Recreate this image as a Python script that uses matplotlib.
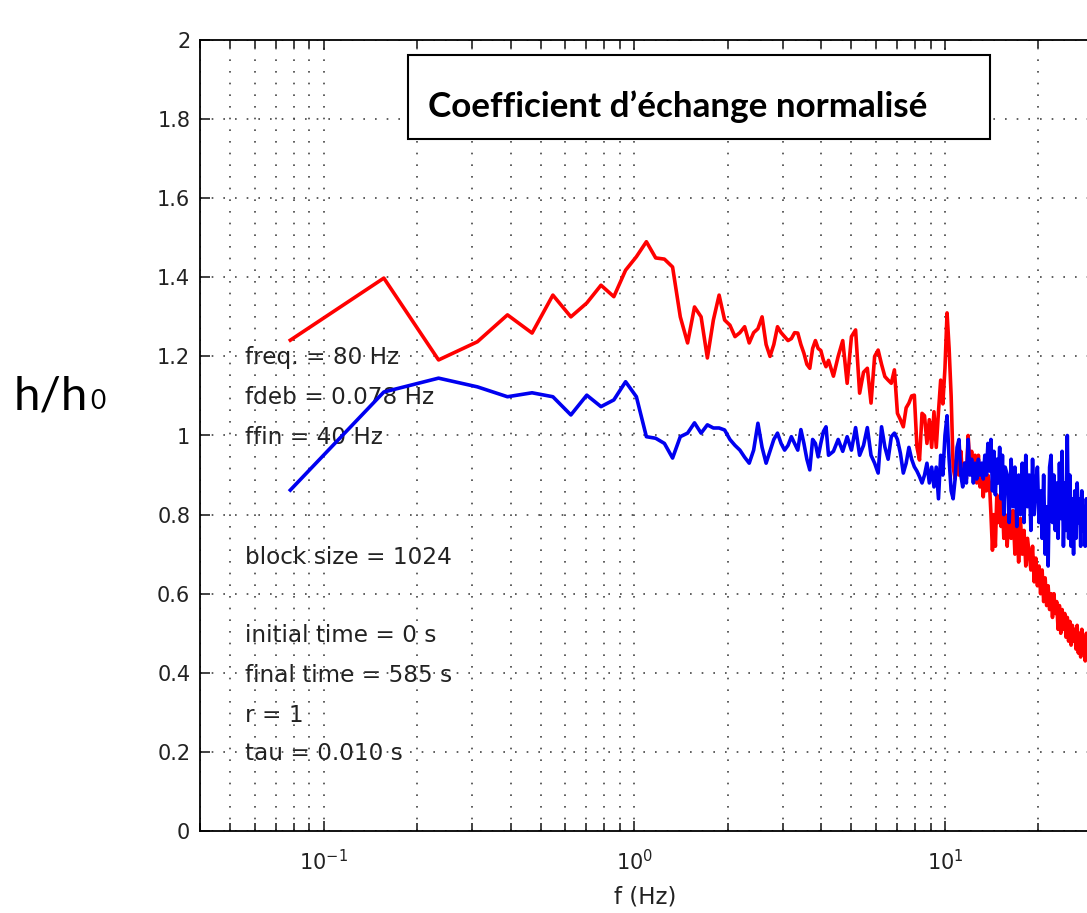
import numpy as np
import matplotlib
matplotlib.use('Agg')
import matplotlib.pyplot as plt
from matplotlib.patches import Rectangle
from matplotlib.ticker import FixedLocator, LogLocator, NullFormatter

plt.rcParams['font.family'] = ['DejaVu Sans']
plt.rcParams['mathtext.fontset'] = 'dejavusans'
plt.rcParams['mathtext.default'] = 'regular'

# spectral bins (fs = 80 Hz, block size 1024)
df = 80 / 1024
bins = (list(range(1, 55)) + list(range(56, 109, 2)) + list(range(110, 201, 2))
        + list(range(203, 372, 3)))

red = [1.241, 1.398, 1.191, 1.237, 1.305, 1.259, 1.355, 1.300, 1.335, 1.380,
       1.351, 1.418, 1.452, 1.490, 1.449, 1.446, 1.426, 1.300, 1.234, 1.325,
       1.300, 1.196, 1.292, 1.355, 1.292, 1.279, 1.250, 1.260, 1.275, 1.234,
       1.260, 1.270, 1.300, 1.230, 1.200, 1.230, 1.275, 1.260, 1.250, 1.240,
       1.245, 1.260, 1.259, 1.230, 1.208, 1.180, 1.170, 1.220, 1.240, 1.220,
       1.215, 1.190, 1.174, 1.190,
       1.150, 1.200, 1.240, 1.132, 1.250, 1.267, 1.107, 1.160, 1.170, 1.082,
       1.200, 1.216, 1.180, 1.149, 1.140, 1.132, 1.166, 1.056, 1.040, 1.022,
       1.070, 1.082, 1.100, 1.102, 0.971, 0.938, 1.056,
       1.05, 0.98, 1.04, 0.97, 1.06, 0.97, 1.06, 1.14, 1.08, 1.17,
       1.31, 1.22, 1.10, 0.92, 0.89, 0.95, 0.90, 0.96, 0.89, 0.93,
       0.89, 1.00, 0.92, 0.96, 0.90, 0.95, 0.88, 0.95, 0.87, 0.91,
       0.845, 0.90, 0.86, 0.90, 0.88, 0.80, 0.71, 0.80, 0.72, 0.85,
       0.78, 0.84, 0.77, 0.83, 0.74, 0.80,
       0.72, 0.82, 0.74, 0.81, 0.70, 0.78, 0.68, 0.79, 0.70, 0.76,
       0.67, 0.74, 0.70, 0.66, 0.72, 0.63, 0.69, 0.62, 0.67, 0.60,
       0.66, 0.58, 0.64, 0.57, 0.62, 0.56, 0.60, 0.54, 0.60, 0.55,
       0.58, 0.51, 0.57, 0.50, 0.56, 0.51, 0.55, 0.49, 0.54, 0.48,
       0.53, 0.47, 0.52, 0.48, 0.51, 0.46, 0.52, 0.45, 0.50, 0.44,
       0.51, 0.45, 0.49, 0.43, 0.50, 0.44, 0.47]

blue = [0.862, 1.110, 1.145, 1.123, 1.098, 1.108, 1.098, 1.052, 1.102, 1.073,
        1.090, 1.136, 1.098, 0.997, 0.993, 0.980, 0.943, 0.997, 1.006, 1.032,
        1.006, 1.027, 1.019, 1.019, 1.014, 0.990, 0.975, 0.963, 0.945, 0.930,
        0.963, 1.031, 0.970, 0.930, 0.960, 0.990, 1.006, 0.980, 0.963, 0.975,
        0.997, 0.980, 0.963, 1.015, 0.980, 0.940, 0.913, 0.990, 0.980, 0.946,
        0.980, 1.010, 1.022, 0.950,
        0.960, 0.990, 0.960, 0.997, 0.963, 1.020, 0.950, 0.975, 1.020, 0.950,
        0.930, 0.905, 1.022, 0.971, 0.940, 0.997, 1.006, 0.990, 0.955, 0.905,
        0.930, 0.970, 0.940, 0.921, 0.910, 0.896, 0.880,
        0.90, 0.93, 0.88, 0.92, 0.87, 0.92, 0.84, 0.95, 0.90, 1.00,
        1.05, 0.94, 0.86, 0.84, 0.89, 0.97, 0.99, 0.90, 0.87, 0.93,
        0.88, 0.99, 0.90, 0.94, 0.88, 0.93, 0.89, 0.94, 0.90, 0.93,
        0.89, 0.95, 0.90, 0.98, 0.91, 0.99, 0.86, 0.96, 0.85, 0.94,
        0.88, 0.97, 0.84, 0.95, 0.80, 0.92,
        0.90, 0.78, 0.94, 0.82, 0.92, 0.77, 0.90, 0.80, 0.93, 0.78,
        0.95, 0.82, 0.90, 0.76, 0.94, 0.80, 0.88, 0.92, 0.78, 0.86,
        0.74, 0.90, 0.70, 0.82, 0.67, 0.92, 0.95, 0.78, 0.90, 0.76,
        0.88, 0.74, 0.93, 0.79, 0.96, 0.72, 0.88, 0.76, 1.00, 0.74,
        0.90, 0.72, 0.84, 0.70, 0.86, 0.74, 0.88, 0.78, 0.84, 0.72,
        0.86, 0.76, 0.82, 0.72, 0.84, 0.74, 0.80]

yticks = [0, 0.2, 0.4, 0.6, 0.8, 1.0, 1.2, 1.4, 1.6, 1.8, 2.0]
ylabels = ['0', '0.2', '0.4', '0.6', '0.8', '1', '1.2', '1.4', '1.6', '1.8', '2']
xticks = [0.1, 1, 10, 100]
xlabels = ['$10^{-1}$', '$10^{0}$', '$10^{1}$', '$10^{2}$']

notes = ['freq. = 80 Hz', 'fdeb = 0.078 Hz', 'ffin = 40 Hz', 'block size = 1024',
         'initial time = 0 s', 'final time = 585 s', 'r = 1', 'tau = 0.010 s']
note_y = [357, 397, 437, 558, 635, 675, 715, 753]

f = np.array(bins) * df

W, H = 1087, 913
fig = plt.figure(figsize=(W / 100, H / 100), dpi=100)
# axes runs past the right edge (picture is cropped)
ax = fig.add_axes([200 / W, 82 / H, 932 / W, 791 / H])

ax.plot(f, red, color='#ff0000', lw=2.6, zorder=3)
ax.plot(f, blue, color='#0000f0', lw=2.6, zorder=3)

ax.set_xscale('log')
ax.set_xlim(0.04, 40)
ax.set_ylim(0, 2)
ax.xaxis.set_major_locator(FixedLocator(xticks))
ax.set_xticklabels(xlabels)
ax.xaxis.set_minor_locator(LogLocator(base=10, subs=np.arange(2, 10)))
ax.xaxis.set_minor_formatter(NullFormatter())
ax.set_yticks(yticks)
ax.set_yticklabels(ylabels)

dots = (0, (1, 6))
ax.grid(True, which='major', axis='both', color='#444444', ls=dots, lw=1.2)
ax.grid(True, which='minor', axis='x', color='#444444', ls=dots, lw=1.2)

ax.tick_params(which='both', direction='in', top=True, right=False,
               colors='#222222', labelsize=15, width=1.2)
ax.tick_params(which='major', length=7)
ax.tick_params(which='minor', length=6)
ax.tick_params(axis='x', pad=13)
ax.tick_params(axis='y', pad=7)
for s in ['left', 'bottom', 'top']:
    ax.spines[s].set_linewidth(1.3)
ax.spines['right'].set_visible(False)

ax.set_xlabel('f (Hz)', fontsize=16.5, color='#222222', va='center')
ax.xaxis.set_label_coords((645 - 200) / 932, (831 - 897) / 791)

for s, y in zip(notes, note_y):
    ax.text(245 / W, 1 - y / H, s, transform=fig.transFigure, fontsize=16.7,
            color='#222222', va='center', ha='left', zorder=1)

# title box
fig.add_artist(Rectangle((408 / W, 1 - 139 / H), 582 / W, 84 / H,
                         transform=fig.transFigure, facecolor='white',
                         edgecolor='black', lw=1.5, zorder=5))
title = fig.text(428 / W, 1 - 107 / H, 'Coefficient d\u2019\u00e9change normalis\u00e9',
                 fontsize=24, fontweight='bold', family=['Lato', 'DejaVu Sans'],
                 va='center', ha='left', zorder=6)
rend = fig.canvas.get_renderer()
tw = title.get_window_extent(rend).width
title.set_fontsize(24 * 500 / tw)

# y label h/h0
hl = fig.text(14 / W, 1 - 409 / H, 'h/h', fontsize=34, family=['Lato', 'DejaVu Sans'],
              va='baseline', ha='left')
bb = hl.get_window_extent(rend)
fig.text((bb.x1 + 2) / W, 1 - 409 / H, '0', fontsize=19,
         family=['Lato', 'DejaVu Sans'], va='baseline', ha='left')

plt.savefig('out.png', dpi=100)
